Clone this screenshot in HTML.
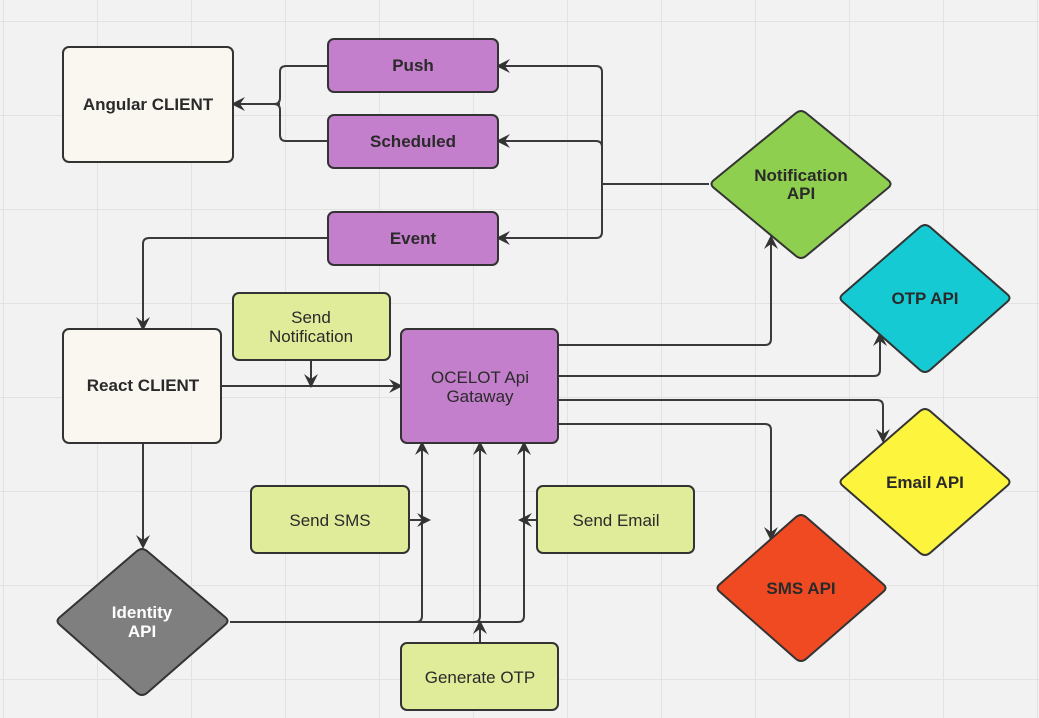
<!DOCTYPE html>
<html><head><meta charset="utf-8"><style>
html,body{margin:0;padding:0;background:#f2f2f2;}
svg{display:block;font-family:"Liberation Sans",Arial,sans-serif;}
</style></head><body>
<svg width="1039" height="718" viewBox="0 0 1039 718" xmlns="http://www.w3.org/2000/svg">
<defs>
<pattern id="g" x="3" y="21" width="94" height="94" patternUnits="userSpaceOnUse">
<path d="M0 0 H94 M0 0 V94" stroke="#e2e2e2" stroke-width="2" fill="none"/>
</pattern>
<marker id="a" markerWidth="14" markerHeight="14" refX="12" refY="7" orient="auto" markerUnits="userSpaceOnUse">
<path d="M0,0 L14,7 L0,14 L5,7 z" fill="#333"/>
</marker>
</defs>
<rect width="1039" height="718" fill="#f2f2f2"/>
<rect width="1039" height="718" fill="url(#g)"/>

<g fill="none" stroke="#3a3a3a" stroke-width="2">
<path d="M709 184 H602"/>
<path d="M602 184 V72 Q602 66 596 66 H498" marker-end="url(#a)"/>
<path d="M602 184 V147 Q602 141 596 141 H498" marker-end="url(#a)"/>
<path d="M602 184 V232 Q602 238 596 238 H498" marker-end="url(#a)"/>
<path d="M328 66 H286 Q280 66 280 72 V98 Q280 104 274 104"/>
<path d="M328 141 H286 Q280 141 280 135 V110 Q280 104 274 104"/>
<path d="M280 104 H233" marker-end="url(#a)"/>
<path d="M328 238 H149 Q143 238 143 244 V329" marker-end="url(#a)"/>
<path d="M221 386 H401" marker-end="url(#a)"/>
<path d="M311 360 V386" marker-end="url(#a)"/>
<path d="M558 345 H765 Q771 345 771 339 V237" marker-end="url(#a)"/>
<path d="M558 376 H874 Q880 376 880 370 V334" marker-end="url(#a)"/>
<path d="M558 400 H877 Q883 400 883 406 V441" marker-end="url(#a)"/>
<path d="M558 424 H765 Q771 424 771 430 V539" marker-end="url(#a)"/>
<path d="M143 443 V547" marker-end="url(#a)"/>
<path d="M230 622 H416 Q422 622 422 616 V443" marker-end="url(#a)"/>
<path d="M416 622 H474 Q480 622 480 616 V443" marker-end="url(#a)"/>
<path d="M474 622 H518 Q524 622 524 616 V443" marker-end="url(#a)"/>
<path d="M409 520 H429" marker-end="url(#a)"/>
<path d="M537 520 H520" marker-end="url(#a)"/>
<path d="M480 643 V622" marker-end="url(#a)"/>
</g>

<g stroke="#333" stroke-width="2">
<rect x="63" y="47" width="170" height="115" rx="6" fill="#faf7f1"/>
<rect x="328" y="39" width="170" height="53" rx="6" fill="#c47fcc"/>
<rect x="328" y="115" width="170" height="53" rx="6" fill="#c47fcc"/>
<rect x="328" y="212" width="170" height="53" rx="6" fill="#c47fcc"/>
<rect x="63" y="329" width="158" height="114" rx="6" fill="#faf7f1"/>
<rect x="233" y="293" width="157" height="67" rx="6" fill="#e0ec9a"/>
<rect x="401" y="329" width="157" height="114" rx="6" fill="#c47fcc"/>
<rect x="251" y="486" width="158" height="67" rx="6" fill="#e0ec9a"/>
<rect x="537" y="486" width="157" height="67" rx="6" fill="#e0ec9a"/>
<rect x="401" y="643" width="157" height="67" rx="6" fill="#e0ec9a"/>
<g stroke-linejoin="round">
<path d="M796 113 Q801 109 806 113 L888 180 Q893 184 888 188 L806 256 Q801 260 796 256 L714 188 Q709 184 714 180 Z" fill="#8fcf4f"/>
<path d="M920 227 Q925 223 930 227 L1007 294 Q1012 298 1007 302 L930 370 Q925 374 920 370 L843 302 Q838 298 843 294 Z" fill="#16cad4"/>
<path d="M920 411 Q925 407 930 411 L1007 478 Q1012 482 1007 486 L930 553 Q925 557 920 553 L843 486 Q838 482 843 478 Z" fill="#fdf43e"/>
<path d="M796 517 Q801 513 806 517 L883 584 Q888 588 883 592 L806 659 Q801 663 796 659 L720 592 Q715 588 720 584 Z" fill="#f04a23"/>
<path d="M137 551 Q142 547 147 551 L225 617 Q230 621 225 625 L147 693 Q142 697 137 693 L60 625 Q55 621 60 617 Z" fill="#7f7f7f"/>
</g>
</g>

<g font-size="17" fill="#2a2a2a" text-anchor="middle">
<g font-weight="bold">
<text x="148" y="110">Angular CLIENT</text>
<text x="413" y="71">Push</text>
<text x="413" y="147">Scheduled</text>
<text x="413" y="244">Event</text>
<text x="143" y="391">React CLIENT</text>
<text x="801" y="181">Notification</text>
<text x="801" y="199">API</text>
<text x="925" y="304">OTP API</text>
<text x="925" y="488">Email API</text>
<text x="801" y="594">SMS API</text>
<text x="142" y="618" fill="#fff">Identity</text>
<text x="142" y="637" fill="#fff">API</text>
</g>
<text x="311" y="323">Send</text>
<text x="311" y="342">Notification</text>
<text x="480" y="383">OCELOT Api</text>
<text x="480" y="402">Gataway</text>
<text x="330" y="526">Send SMS</text>
<text x="616" y="526">Send Email</text>
<text x="480" y="683">Generate OTP</text>
</g>
</svg>
</body></html>
